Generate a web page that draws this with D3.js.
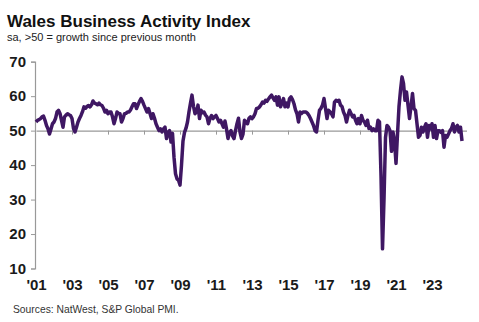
<!DOCTYPE html>
<html>
<head>
<meta charset="utf-8">
<script src="https://cdnjs.cloudflare.com/ajax/libs/d3/7.8.5/d3.min.js"></script>
<style>
  body { margin: 0; background: #fff; }
  text { font-family: "Liberation Sans", Arial, sans-serif; }
</style>
</head>
<body>
<div id="chart"></div>
<script>
// monthly index, Jan 2001 onwards
const activity = [
  52.5, 53, 53.2, 53.5, 54, 54.2, 53, 51.5, 50.5, 49, 50.5, 52,          // 2001
  52.5, 53.5, 55.4, 55.9, 55, 53, 51, 54, 54.5, 54.9, 54.6, 54.4,        // 2002
  53.5, 50.6, 49.6, 51, 52.5, 53.5, 54.4, 55.5, 56.9, 56.5, 57, 57.3,    // 2003
  56.9, 57.5, 58.6, 58, 57.8, 57.5, 58, 57.5, 57.3, 56.5, 55.4, 55.9,    // 2004
  54.9, 55.4, 55.4, 54, 52, 53.5, 55.4, 55, 54.9, 52.5, 53.5, 54.9,      // 2005
  55, 55.4, 55.4, 56, 56.9, 57.8, 57.8, 56.4, 57.5, 58.5, 59.3, 58.5,    // 2006
  57.4, 56.4, 55.4, 56.4, 55, 53.5, 54.9, 53.6, 52, 51, 50, 50.5,        // 2007
  49.6, 50.5, 51, 47.7, 49.5, 50, 46.7, 49.2, 42.3, 37.5, 36, 35.6,      // 2008
  34.2, 40, 47, 49.5, 50.7, 52.5, 55.5, 58, 60.3, 57, 54.9, 55.5,        // 2009
  57.4, 53.5, 55.9, 55.2, 55.4, 54.5, 54, 52, 53.5, 54.4, 53.5, 54,      // 2010
  54.4, 53.5, 52.5, 53, 52, 51, 52.8, 50.5, 47.7, 49.5, 50, 48.5,        // 2011
  47.7, 50, 52, 53.6, 49.6, 47.7, 49, 53, 52.5, 52, 53.6, 54,            // 2012
  53.5, 54, 54.9, 56.4, 56.5, 56.9, 57.5, 58.3, 58, 58.8, 58.5, 59.2,    // 2013
  59.8, 60.3, 59.5, 58.8, 59.8, 57.4, 59.8, 56.9, 58, 59.3, 56.9, 58,    // 2014
  56.9, 59.3, 59.8, 59, 57.8, 56, 54.9, 52.5, 55.4, 55, 55.4, 55.4,      // 2015
  55.4, 55, 54.4, 53.5, 52.5, 51.5, 50, 49.6, 53, 55.9, 56.5, 57.4,      // 2016
  59.3, 56.4, 53.5, 55.9, 55.5, 54.9, 54, 58.3, 58.8, 58.5, 58.8, 57.4,  // 2017
  57, 55.4, 54.4, 52.5, 54.4, 55.9, 55, 54, 54.4, 53, 52, 53.5,          // 2018
  52, 54.4, 53, 52.5, 51.5, 53, 50.6, 51, 50, 50.5, 50, 50,              // 2019
  53, 52.5, 37, 15.7, 30, 48, 51.5, 51, 50, 44, 49.6, 47,                // 2020
  40.5, 49, 57, 61.7, 65.6, 63.7, 58.8, 61.2, 57.4, 53.5, 56.9, 60.8,    // 2021
  56.4, 55.9, 52, 48.1, 48.6, 51, 49.6, 51, 52, 48.1, 51.5, 50.5,        // 2022
  52, 48.1, 51.5, 47.7, 50, 50, 49.5, 50, 45.2, 48.6, 48.1, 49,          // 2023
  50, 50.6, 52, 49.6, 51, 51.5, 49.6, 51, 47                             // 2024
];
const tickYears = ["'01", "'03", "'05", "'07", "'09", "'11", "'13", "'15", "'17", "'19", "'21", "'23"];
const tickMonths = [0, 24, 48, 72, 96, 120, 144, 168, 192, 216, 240, 264];
const yTicks = [10, 20, 30, 40, 50, 60, 70];

const w = 479, h = 322;
const svg = d3.select('#chart').append('svg')
  .attr('width', w).attr('height', h);

const xScale = d3.scaleLinear().domain([0, 287]).range([36, 466.5]);
const yScale = d3.scaleLinear().domain([10, 70]).range([268.5, 61.7]);

svg.append('text').attr('x', 7).attr('y', 27)
  .attr('font-size', 17).attr('font-weight', 'bold').attr('fill', '#111')
  .text('Wales Business Activity Index');
svg.append('text').attr('x', 7).attr('y', 41)
  .attr('font-size', 11).attr('fill', '#222')
  .text('sa, >50 = growth  since previous  month');

// y axis
const yAxis = svg.append('g')
  .attr('transform', 'translate(35,0)')
  .call(d3.axisLeft(yScale).tickValues(yTicks).tickSize(4).tickPadding(5));
yAxis.select('.domain').attr('stroke', '#999').attr('stroke-width', 1.2);
yAxis.selectAll('.tick line').attr('stroke', '#999');
yAxis.selectAll('text').attr('font-size', 15).attr('font-weight', 'bold')
  .attr('fill', '#1a1a1a').attr('font-family', '"Liberation Sans", Arial, sans-serif');

// line at 50 with tick marks
const midAxis = svg.append('g')
  .attr('transform', 'translate(0,' + yScale(50) + ')')
  .call(d3.axisBottom(xScale).tickValues(tickMonths.slice(1)).tickSizeInner(4)
    .tickSizeOuter(0).tickFormat(''));
midAxis.select('.domain').attr('stroke', '#999').attr('stroke-width', 1.2);
midAxis.selectAll('.tick line').attr('stroke', '#999');

// year labels at bottom
const xLabels = svg.append('g')
  .attr('transform', 'translate(0,276)')
  .call(d3.axisBottom(xScale).tickValues(tickMonths).tickSize(0)
    .tickFormat((d, i) => tickYears[i]));
xLabels.select('.domain').remove();
xLabels.selectAll('text').attr('font-size', 15).attr('font-weight', 'bold')
  .attr('fill', '#1a1a1a').attr('font-family', '"Liberation Sans", Arial, sans-serif');

const line = d3.line()
  .x((d, i) => xScale(i))
  .y(d => yScale(d));

svg.append('path')
  .datum(activity)
  .attr('d', line)
  .attr('fill', 'none')
  .attr('stroke', '#3f1763')
  .attr('stroke-width', 3.5)
  .attr('stroke-linejoin', 'round');

svg.append('text').attr('x', 13).attr('y', 313)
  .attr('font-size', 10.3).attr('fill', '#333')
  .text('Sources: NatWest, S&P Global PMI.');
</script>
</body>
</html>
